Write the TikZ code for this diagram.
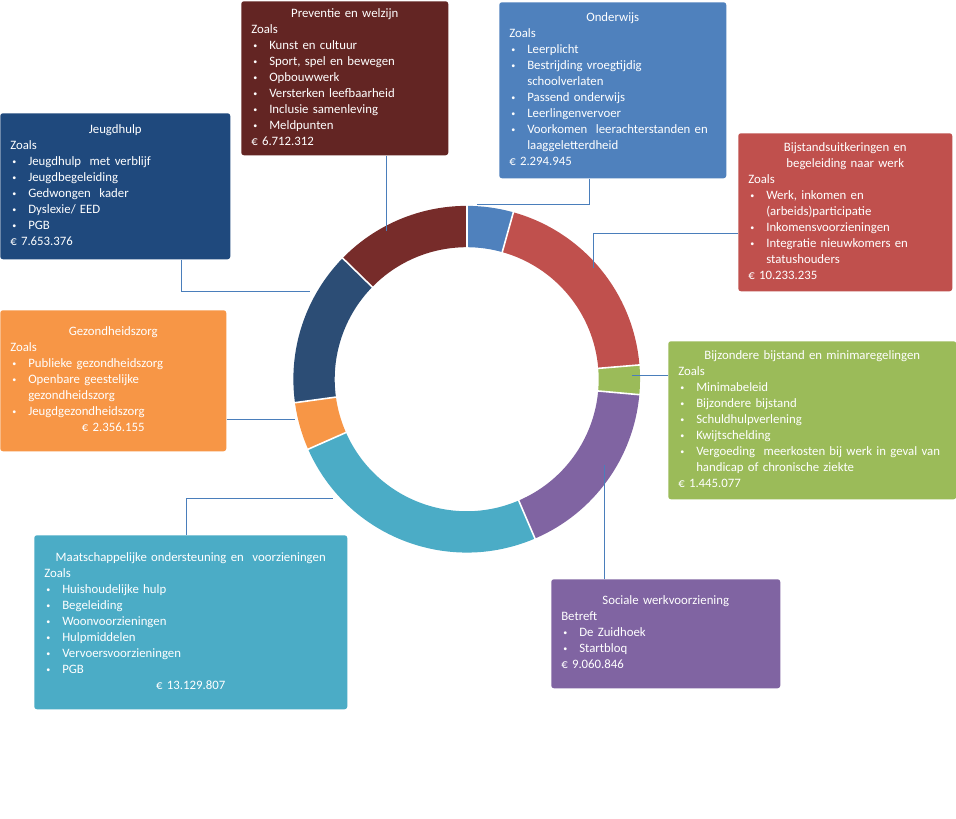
\documentclass[tikz,border=0pt]{standalone}
\usepackage{fontspec}
\setmainfont{Carlito}
\usetikzlibrary{calc}
\definecolor{rOnd}{HTML}{4F81BD}
\definecolor{rBij}{HTML}{C0504D}
\definecolor{rBz}{HTML}{9BBB59}
\definecolor{rSoc}{HTML}{8064A2}
\definecolor{rMaat}{HTML}{4BACC6}
\definecolor{rGez}{HTML}{F79646}
\definecolor{rJeugd}{HTML}{2C4D75}
\definecolor{rPrev}{HTML}{772C2A}
\definecolor{bPrev}{HTML}{632523}
\definecolor{bJeugd}{HTML}{1F497D}
\definecolor{connblue}{HTML}{4A7EBB}
\newcommand\ctl[1]{\makebox[\linewidth][c]{\strut #1}}
\newcommand\pln[1]{\mbox{\strut #1}}
\newcommand\smallbul{\raisebox{0.9pt}{\fontsize{6pt}{6pt}\selectfont\textbullet}}
\newcommand\bul[1]{\mbox{\strut\makebox[13.5pt][l]{\hspace{1.6pt}\smallbul}#1}}
\newcommand\cnt[1]{\mbox{\strut\hspace{13.5pt}#1}}
\newcommand\ringseg[3]{\fill[#3] ($(c)+(#1:130pt)$) arc[start angle=#1, end angle=#2, radius=130pt] -- ($(c)+(#2:99pt)$) arc[start angle=#2, end angle=#1, radius=99pt] -- cycle;}
\newcommand\ringsep[1]{\draw[sep] ($(c)+(#1:97pt)$) -- ($(c)+(#1:132pt)$);}
\begin{document}
\begin{tikzpicture}[x=0.75pt,y=-0.75pt,
  infobox/.style={rectangle, rounded corners=2pt, inner xsep=7.5pt, inner ysep=0pt,
    text=white, align=left, anchor=north west, font=\fontsize{9.6pt}{12pt}\selectfont},
  sep/.style={draw=white, line width=1.2pt},
  conn/.style={draw=connblue, line width=0.75pt}]
\fill[white] (0,0) rectangle (956,818);
\useasboundingbox (0,0) rectangle (956,818);
\coordinate (c) at (466.7,379.2);
% ring
\ringseg{90}{74.378}{rOnd}
\ringseg{74.378}{4.718}{rBij}
\ringseg{4.718}{-5.119}{rBz}
\ringseg{-5.119}{-66.798}{rSoc}
\ringseg{-66.798}{-156.175}{rMaat}
\ringseg{-156.175}{-172.214}{rGez}
\ringseg{-172.214}{-224.312}{rJeugd}
\ringseg{-224.312}{-270}{rPrev}
\foreach \a in {90,74.378,4.718,-5.119,-66.798,-156.175,-172.214,-224.312}{\ringsep{\a}}
% boxes
\node[infobox, fill=bPrev, minimum width=155.25pt, minimum height=115.5pt, text width=140.25pt] (prev) at (241,1) {%
\ctl{Preventie en welzijn}\\
\pln{Zoals}\\
\bul{Kunst en cultuur}\\
\bul{Sport, spel en bewegen}\\
\bul{Opbouwwerk}\\
\bul{Versterken leefbaarheid}\\
\bul{Inclusie samenleving}\\
\bul{Meldpunten}\\
\pln{€ 6.712.312}};
\node[infobox, fill=bJeugd, minimum width=172.5pt, minimum height=109.5pt, text width=157.5pt] (jeugd) at (0,113) {%
\ctl{Jeugdhulp}\\
\pln{Zoals}\\
\bul{Jeugdhulp\ \ met verblijf}\\
\bul{Jeugdbegeleiding}\\
\bul{Gedwongen\ \ kader}\\
\bul{Dyslexie/ EED}\\
\bul{PGB}\\
\pln{€ 7.653.376}};
\node[infobox, fill=rOnd, minimum width=170.25pt, minimum height=132pt, text width=155.25pt] (ond) at (499,2) {%
\ctl{Onderwijs}\\
\pln{Zoals}\\
\bul{Leerplicht}\\
\bul{Bestrijding vroegtijdig}\\
\cnt{schoolverlaten}\\
\bul{Passend onderwijs}\\
\bul{Leerlingenvervoer}\\
\bul{Voorkomen\ \ leerachterstanden en}\\
\cnt{laaggeletterdheid}\\
\pln{€ 2.294.945}};
\node[infobox, fill=rBij, minimum width=160.5pt, minimum height=118.5pt, text width=145.5pt] (bij) at (738,133) {%
\ctl{Bijstandsuitkeringen en}\\
\ctl{begeleiding naar werk}\\
\pln{Zoals}\\
\bul{Werk, inkomen en}\\
\cnt{(arbeids)participatie}\\
\bul{Inkomensvoorzieningen}\\
\bul{Integratie nieuwkomers en}\\
\cnt{statushouders}\\
\pln{€ 10.233.235}};
\node[infobox, fill=rGez, minimum width=169.5pt, minimum height=105.75pt, text width=154.5pt] (gez) at (0,310) {%
\ctl{Gezondheidszorg}\\
\pln{Zoals}\\
\bul{Publieke gezondheidszorg}\\
\bul{Openbare geestelijke}\\
\cnt{gezondheidszorg}\\
\bul{Jeugdgezondheidszorg}\\
\ctl{€ 2.356.155}};
\node[infobox, fill=rBz, minimum width=216pt, minimum height=118.5pt, text width=201pt] (bz) at (668,341) {%
\ctl{Bijzondere bijstand en minimaregelingen}\\
\pln{Zoals}\\
\bul{Minimabeleid}\\
\bul{Bijzondere bijstand}\\
\bul{Schuldhulpverlening}\\
\bul{Kwijtschelding}\\
\bul{Vergoeding\ \ meerkosten\ bij werk in geval van}\\
\cnt{handicap of chronische ziekte}\\
\pln{€ 1.445.077}};
\node[infobox, fill=rMaat, minimum width=234.75pt, minimum height=130.5pt, text width=219.75pt] (maat) at (34,535) {%
\ctl{Maatschappelijke ondersteuning en\ \ voorzieningen}\\
\pln{Zoals}\\
\bul{Huishoudelijke hulp}\\
\bul{Begeleiding}\\
\bul{Woonvoorzieningen}\\
\bul{Hulpmiddelen}\\
\bul{Vervoersvoorzieningen}\\
\bul{PGB}\\
\ctl{€ 13.129.807}};
\node[infobox, fill=rSoc, minimum width=171.75pt, minimum height=81.75pt, text width=156.75pt] (soc) at (551,579) {%
\ctl{Sociale werkvoorziening}\\
\pln{Betreft}\\
\bul{De Zuidhoek}\\
\bul{Startbloq}\\
\pln{€ 9.060.846}};
% connectors
\coordinate (pEnd) at (386,231);
\coordinate (jEnd) at (310,291);
\coordinate (oEnd) at (477,204);
\coordinate (bEnd) at (593,268);
\coordinate (bzEnd) at (632,375);
\coordinate (sEnd) at (604,465);
\coordinate (mEnd) at (333,498);
\coordinate (gEnd) at (295,419);
\draw[conn] ($(prev.south west)+(145,0)$) -- (pEnd);
\draw[conn] ($(jeugd.south west)+(181,0)$) |- (jEnd);
\draw[conn] ($(ond.south west)+(90,0)$) |- (oEnd);
\draw[conn] ($(bij.north west)+(0,100)$) -| (bEnd);
\draw[conn] ($(bz.north west)+(0,34)$) -- (bzEnd);
\draw[conn] ($(soc.north west)+(53,0)$) -- (sEnd);
\draw[conn] ($(maat.north west)+(152,0)$) |- (mEnd);
\draw[conn] ($(gez.north east)+(0,109)$) -- (gEnd);
\end{tikzpicture}
\end{document}
